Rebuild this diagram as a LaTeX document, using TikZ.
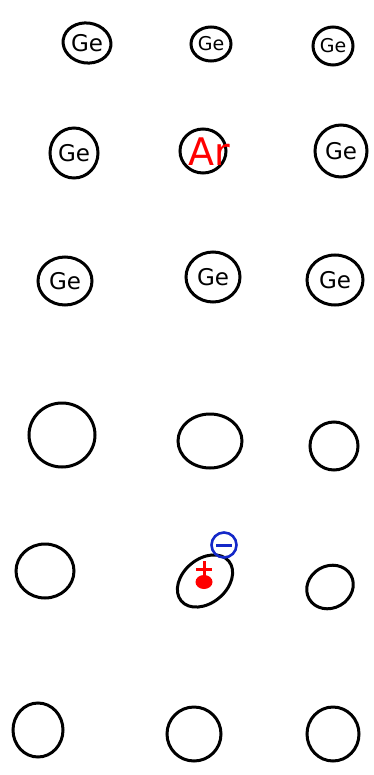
\documentclass[tikz,border=0pt]{standalone}
\usepackage{fontspec}
\usetikzlibrary{shapes.geometric}
\newfontfamily\handfont{DejaVu Sans}
\definecolor{elblue}{RGB}{20,40,200}
\begin{document}
\begin{tikzpicture}[x=1pt,y=-1pt,
  atom/.style={draw=black, line width=3pt, ellipse, inner sep=0pt},
  getext/.style={font=\handfont\fontsize{23}{23}\selectfont, text=black},
  ion/.style={font=\handfont\fontsize{38}{38}\selectfont, text=red}]
\useasboundingbox (0,0) rectangle (374,775);
% row 1
\node[atom, minimum width=48pt, minimum height=40pt, rotate=-8] (a11) at (87,43) {};
\node[getext] (t11) at (a11.center) {Ge};
\node[atom, minimum width=40pt, minimum height=34pt] (a12) at (211,44) {};
\node[getext, font=\handfont\fontsize{19}{19}\selectfont] (t12) at (a12.center) {Ge};
\node[atom, minimum width=40pt, minimum height=38pt] (a13) at (333,46) {};
\node[getext, font=\handfont\fontsize{19}{19}\selectfont] (t13) at (a13.center) {Ge};
% row 2
\node[atom, minimum width=48pt, minimum height=50pt] (a21) at (74,153) {};
\node[getext] (t21) at (a21.center) {Ge};
\node[atom, minimum width=46pt, minimum height=44pt] (a22) at (203,151) {};
\node[ion] (t22) at (209,152) {Ar};
\node[atom, minimum width=52pt, minimum height=52pt] (a23) at (341,151) {};
\node[getext] (t23) at (a23.center) {Ge};
% row 3
\node[atom, minimum width=54pt, minimum height=48pt] (a31) at (65,281) {};
\node[getext] (t31) at (a31.center) {Ge};
\node[atom, minimum width=54pt, minimum height=50pt] (a32) at (213,277) {};
\node[getext] (t32) at (a32.center) {Ge};
\node[atom, minimum width=56pt, minimum height=50pt] (a33) at (335,280) {};
\node[getext] (t33) at (a33.center) {Ge};
% row 4
\node[atom, minimum width=66pt, minimum height=64pt] (a41) at (62,435) {};
\node[atom, minimum width=64pt, minimum height=54pt] (a42) at (210,441) {};
\node[atom, minimum width=48pt, minimum height=48pt] (a43) at (334,446) {};
% row 5
\node[atom, minimum width=58pt, minimum height=54pt] (a51) at (45,571) {};
\node[atom, minimum width=62pt, minimum height=44pt, rotate=40] (a52) at (205,581) {};
\node[atom, minimum width=48pt, minimum height=42pt, rotate=30] (a53) at (330,587) {};
% ion charges
\coordinate (plus) at (204,569);
\draw[red, line width=3pt] ([yshift=-8pt]plus) -- ([yshift=8pt]plus);
\draw[red, line width=3pt] ([xshift=-8pt,yshift=0pt]plus) -- ([xshift=8pt,yshift=0pt]plus);
\node[ellipse, fill=red, inner sep=0pt, minimum width=17pt, minimum height=14pt] (blob) at (204,582) {};
\node[circle, draw=elblue, line width=2.6pt, inner sep=0pt, minimum size=25pt] (el) at (224,545) {};
\draw[elblue, line width=3pt] ([xshift=-8pt]el.center) -- ([xshift=8pt]el.center);
% row 6
\node[atom, minimum width=50pt, minimum height=54pt] (a61) at (38,730) {};
\node[atom, minimum width=54pt, minimum height=54pt] (a62) at (194,734) {};
\node[atom, minimum width=52pt, minimum height=54pt] (a63) at (333,734) {};
\end{tikzpicture}
\end{document}
